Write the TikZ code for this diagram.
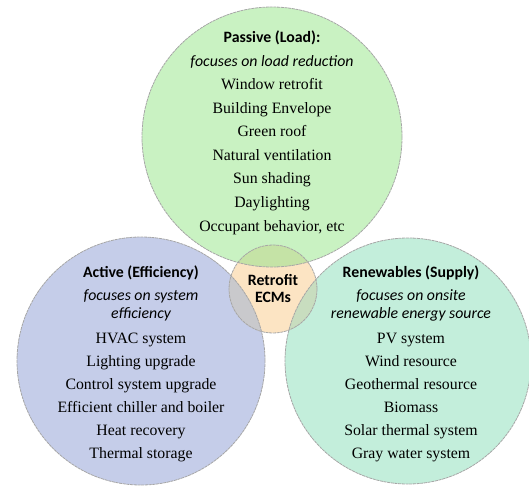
\documentclass[tikz,border=0pt]{standalone}
\usepackage{fontspec}
\setmainfont{Liberation Serif}
\newfontfamily\hdfont{Carlito}
\definecolor{greenF}{HTML}{C9F2C2}
\definecolor{blueF}{HTML}{C5CDE9}
\definecolor{tealF}{HTML}{C3EEDB}
\definecolor{orangeF}{HTML}{FCE4C3}
\definecolor{greenOv}{HTML}{C5E3A6}
\definecolor{blueOv}{HTML}{C9C9CC}
\definecolor{tealOv}{HTML}{C8DDBF}
\tikzset{
  lbl/.style={inner sep=0pt, anchor=base, font=\fontsize{15.8}{18}\selectfont},
  hd/.style={lbl, font=\fontsize{15.8}{18}\selectfont\hdfont\bfseries},
  itx/.style={lbl, font=\fontsize{15.8}{18}\selectfont\hdfont\itshape},
  circ/.style={draw=gray!70, line width=0.8pt, dash pattern=on 3pt off 0.7pt},
}
\begin{document}
\begin{tikzpicture}[x=1pt,y=-1pt]
\useasboundingbox (0,0) rectangle (529,486);
\coordinate (cT) at (272,137);
\coordinate (cB) at (141,361);
\coordinate (cR) at (408,361);
\coordinate (cS) at (273,289);
% circles
\fill[greenF] (cT) circle (130pt);
\fill[blueF] (cB) circle (124pt);
\fill[tealF] (cR) circle (123pt);
\fill[orangeF] (cS) circle (44pt);
\begin{scope}
  \clip (cS) circle (44pt);
  \fill[greenOv] (cT) circle (130pt);
  \fill[blueOv] (cB) circle (124pt);
  \fill[tealOv] (cR) circle (123pt);
\end{scope}
\draw[circ] (cT) circle (130pt);
\draw[circ] (cB) circle (124pt);
\draw[circ] (cR) circle (123pt);
\draw[circ] (cS) circle (44pt);
% top texts
\node[hd]  (t1) at (272,42.5) {Passive (Load):};
\node[itx] (t2) at (272,66.5) {focuses on load reduction};
\node[lbl] (t3) at (272,90) {Window retrofit};
\node[lbl] (t4) at (272,113.5) {Building Envelope};
\node[lbl] (t5) at (272,137) {Green roof};
\node[lbl] (t6) at (272,160.5) {Natural ventilation};
\node[lbl] (t7) at (272,184) {Sun shading};
\node[lbl] (t8) at (272,207.5) {Daylighting};
\node[lbl] (t9) at (272,231) {Occupant behavior, etc};
% left texts
\node[hd]  (b1) at (141,277) {Active (Efficiency)};
\node[itx] (b2) at (141,300.5) {focuses on system};
\node[itx] (b3) at (141,318) {efficiency};
\node[lbl] (b4) at (141,343) {HVAC system};
\node[lbl] (b5) at (141,366.5) {Lighting upgrade};
\node[lbl] (b6) at (141,389) {Control system upgrade};
\node[lbl] (b7) at (141,412) {Efficient chiller and boiler};
\node[lbl] (b8) at (141,435) {Heat recovery};
\node[lbl] (b9) at (141,458) {Thermal storage};
% right texts
\node[hd]  (r1) at (411,277) {Renewables (Supply)};
\node[itx] (r2) at (411,300.5) {focuses on onsite};
\node[itx] (r3) at (411,318) {renewable energy source};
\node[lbl] (r4) at (411,343) {PV system};
\node[lbl] (r5) at (411,366.5) {Wind resource};
\node[lbl] (r6) at (411,389) {Geothermal resource};
\node[lbl] (r7) at (411,412) {Biomass};
\node[lbl] (r8) at (411,435) {Solar thermal system};
\node[lbl] (r9) at (411,458) {Gray water system};
% center
\node[hd] (c1) at (273,285.5) {Retrofit};
\node[hd] (c2) at (273,302) {ECMs};
\end{tikzpicture}
\end{document}
